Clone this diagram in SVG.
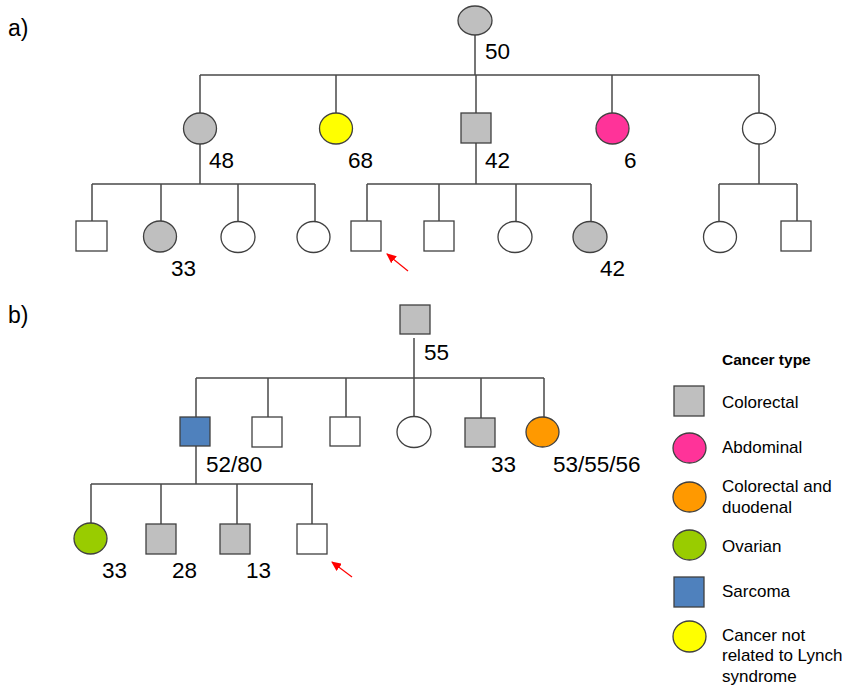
<svg xmlns="http://www.w3.org/2000/svg" width="854" height="691" viewBox="0 0 854 691">
<style>
.ln{stroke:#4a4a4a;stroke-width:1.5;fill:none}
.nd{stroke:#404040;stroke-width:1.3}
.w{fill:#ffffff}
.g{fill:#bfbfbf}
.y{fill:#ffff00}
.p{fill:#ff3399}
.o{fill:#ff9900}
.gr{fill:#99cc00}
.b{fill:#4f81bd}
.num{font-family:"Liberation Sans",Arial,sans-serif;font-size:22.5px;fill:#000}
.lbl{font-family:"Liberation Sans",Arial,sans-serif;font-size:23px;fill:#000}
.lg{font-family:"Liberation Sans",Arial,sans-serif;font-size:17px;fill:#000}
.lgh{font-family:"Liberation Sans",Arial,sans-serif;font-size:15.5px;font-weight:bold;fill:#000}
.arr{stroke:#ff0000;stroke-width:1.2;fill:none}
</style>
<defs>
<marker id="ah" markerWidth="10" markerHeight="9" refX="9" refY="4.5" orient="auto" markerUnits="userSpaceOnUse">
<path d="M0,0 L10,4.5 L0,9 Z" fill="#ff0000"/>
</marker>
</defs>
<rect width="854" height="691" fill="#ffffff"/>
<text class="lbl" x="8" y="36">a)</text>
<text class="lbl" x="8" y="323">b)</text>
<g id="connectors">
<path class="ln" d="M475,35 V75 M200,75 H759 M200,75 V113 M336,75 V113 M476,75 V113 M612,75 V113 M759,75 V113"/>
<path class="ln" d="M200,144 V184 M92,184 H315 M92,184 V221 M161,184 V221 M238,184 V221 M315,184 V221"/>
<path class="ln" d="M476,143 V184 M367,184 H591 M367,184 V221 M439,184 V221 M516,184 V221 M591,184 V221"/>
<path class="ln" d="M759,144 V184 M719,184 H797 M719,184 V221 M797,184 V221"/>
<path class="ln" d="M414,338 V378 M196,378 H544 M196,378 V417 M268,378 V417 M346,378 V417 M414,378 V417 M481,378 V418 M544,378 V417"/>
<path class="ln" d="M196,446 V484 M91,484 H313 M91,484 V523 M161,484 V524 M237,484 V524 M312,484 V524"/>
<line class="arr" x1="408" y1="271" x2="387" y2="254" marker-end="url(#ah)"/>
<line class="arr" x1="352" y1="577" x2="332" y2="562" marker-end="url(#ah)"/>
</g>
<g id="a-gen1"><ellipse class="nd g" cx="475" cy="20.5" rx="17" ry="14.5"/><text class="num" x="485" y="59">50</text></g>
<g id="a-gen2-1"><ellipse class="nd g" cx="200" cy="128.5" rx="16.5" ry="15.5"/><text class="num" x="209" y="168">48</text></g>
<g id="a-gen2-2"><ellipse class="nd y" cx="336" cy="128.5" rx="16.5" ry="15.5"/><text class="num" x="348" y="168">68</text></g>
<g id="a-gen2-3"><rect class="nd g" x="461" y="113" width="30" height="30"/><text class="num" x="485" y="168">42</text></g>
<g id="a-gen2-4"><ellipse class="nd p" cx="612.5" cy="128.5" rx="16.5" ry="15.5"/><text class="num" x="624" y="168">6</text></g>
<g id="a-gen2-5"><ellipse class="nd w" cx="759" cy="128.5" rx="16.5" ry="15.5"/></g>
<g id="a-gen3-1"><rect class="nd w" x="76" y="221" width="31" height="30"/></g>
<g id="a-gen3-2"><ellipse class="nd g" cx="160" cy="236.5" rx="16.5" ry="15.5"/><text class="num" x="171" y="276">33</text></g>
<g id="a-gen3-3"><ellipse class="nd w" cx="238" cy="237" rx="17" ry="15.5"/></g>
<g id="a-gen3-4"><ellipse class="nd w" cx="313.5" cy="237" rx="16.5" ry="15.5"/></g>
<g id="a-gen3-5"><rect class="nd w" x="351" y="221" width="30" height="30"/></g>
<g id="a-gen3-6"><rect class="nd w" x="424" y="221" width="30" height="30"/></g>
<g id="a-gen3-7"><ellipse class="nd w" cx="515" cy="237" rx="17" ry="15.5"/></g>
<g id="a-gen3-8"><ellipse class="nd g" cx="590" cy="237" rx="17" ry="15.5"/><text class="num" x="600" y="276">42</text></g>
<g id="a-gen3-9"><ellipse class="nd w" cx="720" cy="237" rx="16.5" ry="15.5"/></g>
<g id="a-gen3-10"><rect class="nd w" x="781" y="221" width="30" height="30"/></g>
<g id="b-gen1"><rect class="nd g" x="400" y="305" width="30" height="29"/><text class="num" x="424" y="360">55</text></g>
<g id="b-gen2-1"><rect class="nd b" x="180" y="417" width="30" height="29"/><text class="num" x="206" y="472">52/80</text></g>
<g id="b-gen2-2"><rect class="nd w" x="252" y="417" width="30" height="30"/></g>
<g id="b-gen2-3"><rect class="nd w" x="330" y="417" width="30" height="29"/></g>
<g id="b-gen2-4"><ellipse class="nd w" cx="414" cy="432" rx="17" ry="15.5"/></g>
<g id="b-gen2-5"><rect class="nd g" x="465" y="418" width="30" height="29"/><text class="num" x="491" y="472">33</text></g>
<g id="b-gen2-6"><ellipse class="nd o" cx="542.5" cy="432" rx="16.5" ry="15"/><text class="num" x="553" y="472">53/55/56</text></g>
<g id="b-gen3-1"><ellipse class="nd gr" cx="90.5" cy="538.5" rx="16.5" ry="15.5"/><text class="num" x="102" y="578">33</text></g>
<g id="b-gen3-2"><rect class="nd g" x="146" y="524" width="30" height="30"/><text class="num" x="172" y="578">28</text></g>
<g id="b-gen3-3"><rect class="nd g" x="220" y="524" width="30" height="30"/><text class="num" x="246" y="578">13</text></g>
<g id="b-gen3-4"><rect class="nd w" x="297" y="524" width="30" height="30"/></g>
<g id="legend">
<text class="lgh" x="722" y="365">Cancer type</text>
<g id="leg-colorectal"><rect class="nd g" x="674" y="386" width="30" height="30"/><text class="lg" x="722" y="408">Colorectal</text></g>
<g id="leg-abdominal"><ellipse class="nd p" cx="689.5" cy="448" rx="16.5" ry="15"/><text class="lg" x="722" y="453">Abdominal</text></g>
<g id="leg-coloduod"><ellipse class="nd o" cx="689.5" cy="497" rx="16.5" ry="15"/><text class="lg" x="722" y="492">Colorectal and</text><text class="lg" x="722" y="513">duodenal</text></g>
<g id="leg-ovarian"><ellipse class="nd gr" cx="689.5" cy="545" rx="16.5" ry="15"/><text class="lg" x="722" y="552">Ovarian</text></g>
<g id="leg-sarcoma"><rect class="nd b" x="674" y="577" width="30" height="30"/><text class="lg" x="722" y="597">Sarcoma</text></g>
<g id="leg-notlynch"><ellipse class="nd y" cx="689.5" cy="636.5" rx="16.5" ry="15.5"/><text class="lg" x="722" y="641">Cancer not</text><text class="lg" x="722" y="661">related to Lynch</text><text class="lg" x="722" y="682">syndrome</text></g>
</g>
</svg>
